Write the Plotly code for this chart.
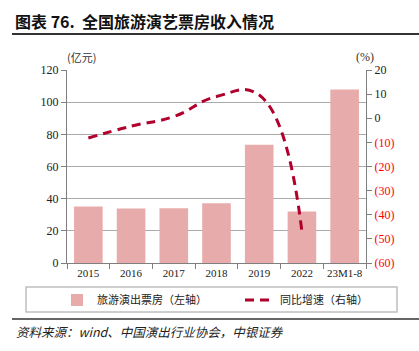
import plotly.graph_objects as go

categories = ["2015", "2016", "2017", "2018", "2019", "2022", "23M1-8"]
box_office = [35.1, 33.9, 34.1, 37.1, 73.6, 32.0, 107.8]
growth_categories = ["2015", "2016", "2017", "2018", "2019", "2022"]
growth = [-8.2, -3.3, 0.7, 9.0, 9.6, -47.0]

left_ticks = [0, 20, 40, 60, 80, 100, 120]
right_ticks = [20, 10, 0, -10, -20, -30, -40, -50, -60]
right_labels = ["20", "10", "0"] + [
    f'<span style="color:#FF0000">({abs(v)})</span>' for v in right_ticks[3:]
]

SERIF = "Liberation Serif, Times New Roman, serif"
CJK = "Noto Sans CJK SC, sans-serif"

fig = go.Figure()
fig.add_trace(go.Bar(
    x=categories, y=box_office, name="旅游演出票房（左轴）",
    marker=dict(color="#E8ABAB", line=dict(width=0)),
    yaxis="y", legend="legend",
))
fig.add_trace(go.Scatter(
    x=growth_categories, y=growth, name="同比增速（右轴）",
    mode="lines",
    line=dict(color="#B0002B", width=3, dash="9px,6px", shape="spline", smoothing=1.3),
    yaxis="y2", legend="legend2",
))

W, L = 299, 67
legend_common = dict(
    orientation="h", xanchor="left", y=-(300 - 263) / 193, yanchor="middle",
    font=dict(family=CJK, size=11, color="#222"),
    bgcolor="rgba(0,0,0,0)", borderwidth=0,
)

fig.update_layout(
    width=419, height=351,
    margin=dict(l=67, r=53, t=70, b=88),
    paper_bgcolor="white", plot_bgcolor="white",
    bargap=0.33,
    showlegend=True,
    legend=dict(x=(57 - L) / W, **legend_common),
    legend2=dict(x=(240 - L) / W, **legend_common),
    xaxis=dict(
        type="category", showline=True, linecolor="#7F7F7F", linewidth=1,
        ticks="outside", ticklen=5, tickcolor="#7F7F7F", tickson="boundaries",
        tickangle=0,
        tickfont=dict(family=SERIF, size=11, color="#222"),
        showgrid=False,
    ),
    yaxis=dict(
        range=[0, 120], tickvals=left_ticks, showline=True, linecolor="#7F7F7F",
        ticks="outside", ticklen=5, tickcolor="#7F7F7F",
        showgrid=True, gridcolor="#ABABAB", gridwidth=1,
        tickfont=dict(family=SERIF, size=12, color="#222"),
        zeroline=False,
    ),
    yaxis2=dict(
        range=[-60, 20], tickvals=right_ticks, ticktext=right_labels,
        overlaying="y", side="right", showline=True, linecolor="#7F7F7F",
        ticks="outside", ticklen=5, tickcolor="#7F7F7F",
        showgrid=False, zeroline=False,
        tickfont=dict(family=SERIF, size=12, color="#222"),
    ),
    shapes=[
        dict(type="line", xref="paper", yref="paper", x0=-0.184, x1=1.2,
             y0=1 + 36 / 193, y1=1 + 36 / 193, line=dict(color="#333", width=2)),
        dict(type="rect", xref="paper", yref="paper",
             x0=(26 - L) / W, x1=(397 - L) / W,
             y0=-(312 - 263) / 193, y1=-(287 - 263) / 193,
             line=dict(color="#BFBFBF", width=1.5)),
        dict(type="line", xref="paper", yref="paper", x0=-0.184, x1=1.2,
             y0=-(319 - 263) / 193, y1=-(319 - 263) / 193,
             line=dict(color="#333", width=1.5)),
    ],
    annotations=[
        dict(text="<b>图表 76.  全国旅游演艺票房收入情况</b>", xref="paper", yref="paper",
             x=(13 - L) / W, y=1 + (263 - 70 + 50 - 1) / 193 - 1, xanchor="left", yanchor="middle",
             showarrow=False, font=dict(family=CJK, size=16, color="#111")),
        dict(text="(亿元)", xref="paper", yref="paper", x=(81 - L) / W, y=1 + 13 / 193,
             xanchor="center", yanchor="middle", showarrow=False,
             font=dict(family=CJK, size=11, color="#333")),
        dict(text="(%)", xref="paper", yref="paper", x=(365 - L) / W, y=1 + 13 / 193,
             xanchor="center", yanchor="middle", showarrow=False,
             font=dict(family=SERIF, size=12, color="#333")),
        dict(text="<i>资料来源：wind、中国演出行业协会，中银证券</i>", xref="paper", yref="paper",
             x=(14 - L) / W, y=-(331 - 263) / 193, xanchor="left", yanchor="middle",
             showarrow=False, font=dict(family=CJK, size=12.5, color="#222")),
    ],
)

fig.write_html("out.html")
